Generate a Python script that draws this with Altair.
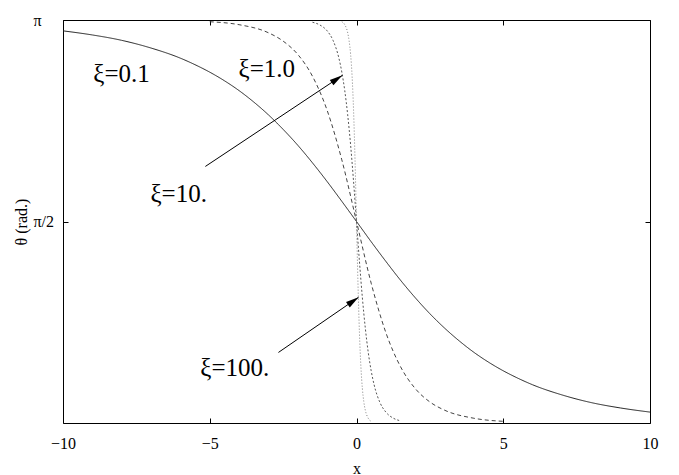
import altair as alt
import pandas as pd

PI = 3.141592653589793

# ---- data ----
x_01 = [-10, -9, -8, -7, -6, -5.5, -5, -4.5, -4, -3.5, -3, -2.5, -2, -1.5, -1, -0.5, 0,
        0.5, 1, 1.5, 2, 2.5, 3, 3.5, 4, 4.5, 5, 5.5, 6, 7, 8, 9, 10]
theta_01 = [3.057, 3.025, 2.983, 2.923, 2.844, 2.793, 2.735, 2.668, 2.591, 2.502, 2.402,
            2.289, 2.165, 2.028, 1.882, 1.728, 1.571,
            1.413, 1.260, 1.113, 0.977, 0.852, 0.740, 0.640, 0.551, 0.474, 0.407, 0.349,
            0.298, 0.219, 0.159, 0.117, 0.085]

x_1 = [-5, -4, -3, -2.5, -2, -1.5, -1, -0.5, 0, 0.5, 1, 1.5, 2, 2.5, 3, 4, 5]
theta_1 = [3.128, 3.105, 3.042, 2.977, 2.873, 2.703, 2.437, 2.051, 1.571,
           1.090, 0.705, 0.439, 0.269, 0.164, 0.100, 0.037, 0.013]

x_10 = [-1.5, -1.25, -1, -0.8, -0.6, -0.5, -0.4, -0.3, -0.2, -0.1, 0,
        0.1, 0.2, 0.3, 0.4, 0.5, 0.6, 0.8, 1, 1.25, 1.5]
theta_10 = [3.124, 3.103, 3.057, 2.983, 2.844, 2.735, 2.591, 2.402, 2.165, 1.882, 1.571,
            1.260, 0.977, 0.740, 0.551, 0.407, 0.298, 0.159, 0.085, 0.038, 0.017]

x_100 = [-0.5, -0.4, -0.3, -0.25, -0.2, -0.15, -0.1, -0.05, 0,
         0.05, 0.1, 0.15, 0.2, 0.25, 0.3, 0.4, 0.5]
theta_100 = [3.128, 3.105, 3.042, 2.977, 2.873, 2.703, 2.437, 2.051, 1.571,
             1.090, 0.705, 0.439, 0.269, 0.164, 0.100, 0.037, 0.013]

label_text = ["ξ=0.1", "ξ=1.0", "ξ=10.", "ξ=100."]
label_x = [-8.97, -4.02, -7.02, -5.32]
label_y = [2.66, 2.70, 1.72, 0.37]

arrow_x = [-5.15, -2.66]
arrow_y = [2.00, 0.55]
arrow_x2 = [-0.48, 0.07]
arrow_y2 = [2.71, 0.98]

x_ticks = [-10, -5, 0, 5, 10]
y_ticks = [PI / 2, PI]

W, H = 587, 403
FONT = "Liberation Serif"

xs = alt.Scale(domain=[-10, 10], nice=False, zero=False)
ys = alt.Scale(domain=[0, PI], nice=False, zero=False)

X_MAIN = alt.Axis(values=x_ticks, orient="bottom", offset=-5, domain=False,
                  tickSize=5, tickColor="black", labelPadding=12, labelFlush=False,
                  labelFont=FONT, labelFontSize=16, labelColor="black",
                  grid=False, title="x", titleFont=FONT, titleFontSize=16,
                  titleFontWeight="normal", titleColor="black", titlePadding=9)
Y_MAIN = alt.Axis(values=y_ticks, orient="left", offset=-5, domain=False,
                  tickSize=5, tickColor="black", labelPadding=30, labelAlign="left",
                  labelFlush=False,
                  labelExpr="datum.value > 3 ? 'π' : 'π/2'",
                  labelFont=FONT, labelFontSize=16, labelColor="black",
                  grid=False, title="θ (rad.)", titleFont=FONT, titleFontSize=16,
                  titleFontWeight="normal", titleColor="black", titlePadding=4)


def curve(xv, yv, color, dash, main=False):
    df = pd.DataFrame({"x": xv, "theta": yv})
    return alt.Chart(df).mark_line(
        color=color, strokeWidth=1, strokeDash=dash, interpolate="monotone", clip=True
    ).encode(
        x=alt.X("x:Q", scale=xs, axis=X_MAIN if main else None),
        y=alt.Y("theta:Q", scale=ys, axis=Y_MAIN if main else None),
    )


c01 = curve(x_01, theta_01, "#222222", [1, 0], main=True)
c1 = curve(x_1, theta_1, "#444444", [4, 3])
c10 = curve(x_10, theta_10, "#555555", [2, 2])
c100 = curve(x_100, theta_100, "#808080", [1, 2])

# mirrored ticks (top and right)
mirror_df = pd.DataFrame({"x": x_01, "theta": theta_01})
mirror = alt.Chart(mirror_df).mark_line(opacity=0).encode(
    x=alt.X("x:Q", scale=xs,
            axis=alt.Axis(values=x_ticks, orient="top", offset=-5, domain=False,
                          tickSize=5, tickColor="black", labels=False, grid=False, title=None)),
    y=alt.Y("theta:Q", scale=ys,
            axis=alt.Axis(values=y_ticks, orient="right", offset=-5, domain=False,
                          tickSize=5, tickColor="black", labels=False, grid=False, title=None)),
)

labels_df = pd.DataFrame({"text": label_text, "x": label_x, "y": label_y})
labels = alt.Chart(labels_df).mark_text(
    font=FONT, fontSize=25, align="left", baseline="alphabetic", color="black"
).encode(x=alt.X("x:Q", scale=xs, axis=None), y=alt.Y("y:Q", scale=ys, axis=None),
         text="text:N")

arrows_df = pd.DataFrame({"x": arrow_x, "y": arrow_y, "x2": arrow_x2, "y2": arrow_y2,
                          "angle": [56, 55]})
shafts = alt.Chart(arrows_df).mark_rule(color="black", strokeWidth=1).encode(
    x=alt.X("x:Q", scale=xs, axis=None), y=alt.Y("y:Q", scale=ys, axis=None),
    x2="x2:Q", y2="y2:Q")
heads = alt.Chart(arrows_df).mark_point(
    shape="M0,0L-0.5,2L0.5,2Z", filled=True, color="black", opacity=1, size=169
).encode(x=alt.X("x2:Q", scale=xs, axis=None), y=alt.Y("y2:Q", scale=ys, axis=None),
         angle=alt.Angle("angle:Q", scale=None))

chart = alt.layer(c01, c1, c10, c100, mirror, shafts, heads, labels).resolve_axis(
    x="independent", y="independent"
).properties(
    width=W, height=H,
    autosize=alt.AutoSizeParams(type="none"),
    padding={"left": 55, "top": 12, "right": 21, "bottom": 52},
    background="white",
).configure_view(stroke="black", strokeWidth=1)

chart.save("out.html", embed_options={"renderer": "svg", "actions": False})
